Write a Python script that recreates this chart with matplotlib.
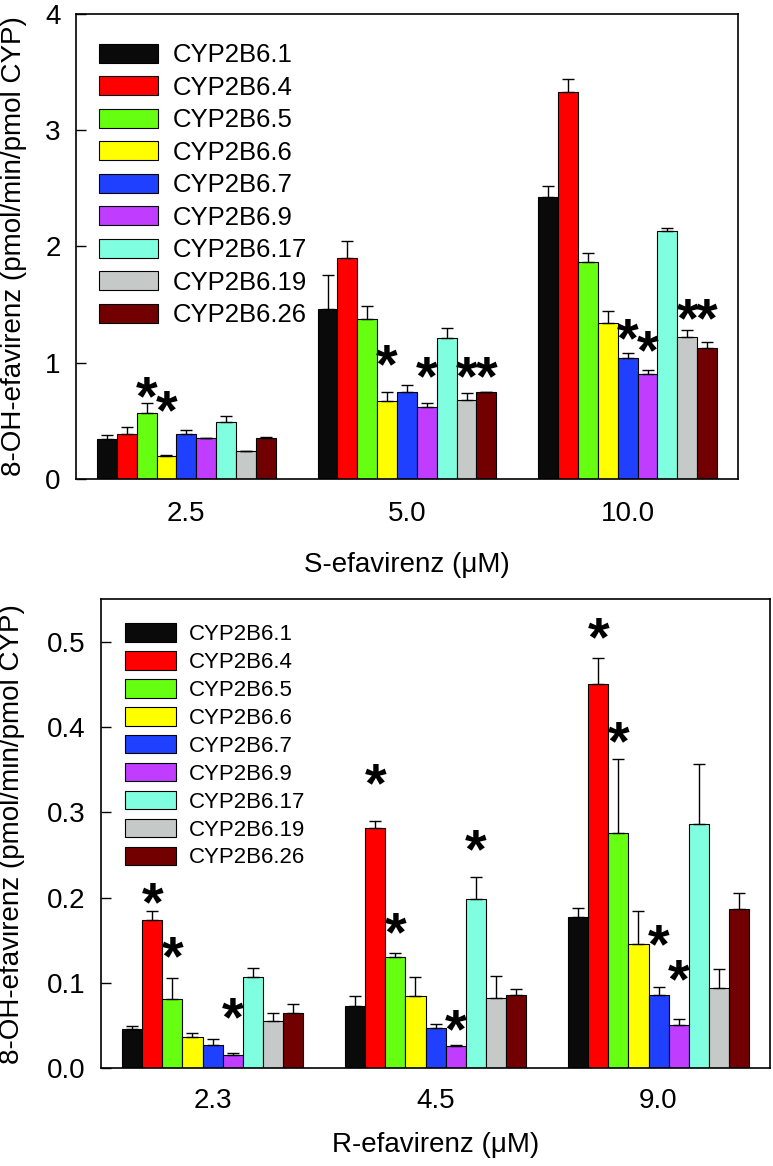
import numpy as np
import matplotlib.pyplot as plt

plt.rcParams['font.family'] = ['Liberation Sans', 'DejaVu Sans']

# variantes y colores
variantes = ['CYP2B6.1', 'CYP2B6.4', 'CYP2B6.5', 'CYP2B6.6', 'CYP2B6.7',
             'CYP2B6.9', 'CYP2B6.17', 'CYP2B6.19', 'CYP2B6.26']
colores = ['#0a0a0a', '#ff0000', '#66ff11', '#ffff00', '#1f40ff',
           '#c03cff', '#80ffe0', '#c5cac9', '#730000']

# S-efavirenz (2.5, 5.0, 10.0 uM)
conc_S = ['2.5', '5.0', '10.0']
media_S = [[0.34, 1.465, 2.43],
           [0.385, 1.90, 3.33],
           [0.57, 1.38, 1.87],
           [0.20, 0.67, 1.345],
           [0.39, 0.745, 1.045],
           [0.35, 0.62, 0.90],
           [0.49, 1.21, 2.13],
           [0.24, 0.68, 1.22],
           [0.35, 0.745, 1.13]]
de_S = [[0.04, 0.29, 0.09],
        [0.06, 0.15, 0.11],
        [0.08, 0.11, 0.07],
        [0.005, 0.08, 0.10],
        [0.03, 0.065, 0.035],
        [0.005, 0.03, 0.04],
        [0.05, 0.09, 0.03],
        [0.005, 0.06, 0.06],
        [0.01, 0.005, 0.05]]
# asteriscos: (grupo, barra, altura)
ast_S = [(0, 2, 0.83), (0, 3, 0.71), (1, 3, 1.11), (1, 5, 1.0), (1, 7, 1.0),
         (1, 8, 1.0), (2, 4, 1.33), (2, 5, 1.225), (2, 7, 1.50), (2, 8, 1.50)]

# R-efavirenz (2.3, 4.5, 9.0 uM)
conc_R = ['2.3', '4.5', '9.0']
media_R = [[0.046, 0.073, 0.177],
           [0.174, 0.282, 0.451],
           [0.081, 0.130, 0.276],
           [0.036, 0.085, 0.146],
           [0.027, 0.047, 0.086],
           [0.015, 0.026, 0.050],
           [0.107, 0.198, 0.286],
           [0.055, 0.082, 0.094],
           [0.064, 0.086, 0.187]]
de_R = [[0.003, 0.012, 0.011],
        [0.010, 0.008, 0.030],
        [0.025, 0.005, 0.087],
        [0.005, 0.022, 0.038],
        [0.007, 0.005, 0.009],
        [0.003, 0.001, 0.007],
        [0.010, 0.026, 0.071],
        [0.009, 0.026, 0.022],
        [0.011, 0.007, 0.018]]
ast_R = [(0, 1, 0.211), (0, 2, 0.148), (0, 5, 0.076), (1, 1, 0.350), (1, 2, 0.176),
         (1, 5, 0.062), (1, 6, 0.273), (2, 1, 0.522), (2, 2, 0.400), (2, 4, 0.162),
         (2, 5, 0.121)]

ancho = 0.09
ast_fs = 40
fs = 20


def panel(ax, conc, media, de, ast, ylim, yticks, yfmt, xlabel, leg_fs, leg_anchor,
          leg_sp, leg_len, xpad):
    x = np.arange(len(conc))
    for i in range(len(variantes)):
        pos = x + (i - 4) * ancho
        ax.bar(pos, media[i], ancho, color=colores[i], edgecolor='black',
               linewidth=0.8, label=variantes[i], zorder=2)
        ax.errorbar(pos, media[i], yerr=[np.zeros(len(conc)), de[i]], fmt='none',
                    ecolor='black', elinewidth=1, capsize=4.5, capthick=1, zorder=3)
    for g, b, y in ast:
        ax.annotate('*', xy=(g + (b - 4) * ancho, y), xytext=(0, -0.575 * ast_fs),
                    textcoords='offset points', ha='center', va='baseline',
                    fontsize=ast_fs, fontweight='bold')
    ax.set_xlim(-0.5, 2.5)
    ax.set_ylim(*ylim)
    ax.set_xticks(x)
    ax.set_xticklabels(conc)
    ax.set_yticks(yticks)
    ax.set_yticklabels([yfmt.format(v) for v in yticks])
    ax.tick_params(axis='x', length=0, labelsize=fs, pad=xpad)
    ax.tick_params(axis='y', direction='in', length=7, width=1, labelsize=fs, pad=11)
    for s in ax.spines.values():
        s.set_linewidth(1.2)
    ax.set_xlabel(xlabel, fontsize=fs)
    ax.set_ylabel('8-OH-efavirenz (pmol/min/pmol CYP)', fontsize=fs)
    ax.legend(loc='upper left', bbox_to_anchor=leg_anchor, frameon=False,
              fontsize=leg_fs, borderpad=0, borderaxespad=0,
              handlelength=leg_len, handleheight=14.4 / leg_fs,
              labelspacing=leg_sp, handletextpad=0.56)


fig = plt.figure(figsize=(7.73, 11.66), dpi=100)
ax1 = fig.add_axes([0.0983, 0.5892, 0.8564, 0.3988])
ax2 = fig.add_axes([0.1307, 0.0840, 0.8655, 0.4022])

panel(ax1, conc_S, media_S, de_S, ast_S, (0, 4), [0, 1, 2, 3, 4], '{:.0f}',
      'S-efavirenz (\u03bcM)', 18.5, (0.0347, 0.937), 0.33, 2.3, 16)
panel(ax2, conc_R, media_R, de_R, ast_R, (0, 0.55), [0.0, 0.1, 0.2, 0.3, 0.4, 0.5],
      '{:.1f}', 'R-efavirenz (\u03bcM)', 16, (0.0359, 0.948), 0.27, 2.3, 14)

ax1.xaxis.set_label_coords(0.5, -0.185)
ax1.xaxis.label.set_va('center')
ax2.xaxis.set_label_coords(0.5, -0.164)
ax2.xaxis.label.set_va('center')
ax1.yaxis.set_label_coords(-0.0937, 0.5)
ax1.yaxis.label.set_va('center')
ax2.yaxis.set_label_coords(-0.133, 0.5)
ax2.yaxis.label.set_va('center')

fig.savefig('out.png', dpi=100)
